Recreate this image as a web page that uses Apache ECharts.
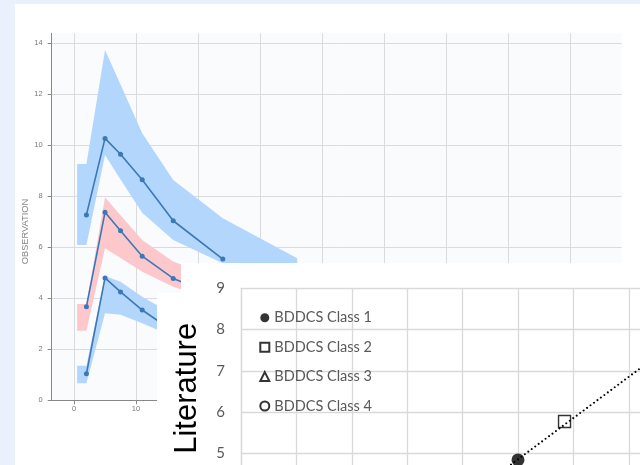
<!DOCTYPE html>
<html>
<head>
<meta charset="utf-8">
<script src="https://cdn.jsdelivr.net/npm/echarts@6/dist/echarts.min.js"></script>
<style>
  html, body { margin: 0; padding: 0; width: 640px; height: 465px; overflow: hidden; background: #eaf1fc; }
  #main { position: absolute; left: 0; top: 0; width: 640px; height: 465px; }
  #inset { position: absolute; left: 156.7px; top: 263px; width: 483.3px; height: 202px; }
</style>
</head>
<body>
<div id="main"></div>
<div id="inset"></div>
<script>
// ---- Time-course panel: observed medians with prediction intervals ----
const obsTime = [2, 5, 7.5, 11, 16, 24];
const highObs = [7.27, 10.27, 9.65, 8.65, 7.04, 5.54];
const midObs  = [3.67, 7.37, 6.65, 5.65, 4.78, 4.0];
const lowObs  = [1.04, 4.8, 4.25, 3.54, 2.7];

const highBandTime  = [0.5, 2, 5, 7.5, 11, 16, 24, 36];
const highBandUpper = [9.27, 9.27, 13.74, 12.38, 10.47, 8.64, 7.14, 5.57];
const highBandLower = [6.09, 6.09, 9.62, 8.66, 7.35, 6.29, 5.37, 4.2];

const midBandTime  = [0.5, 2, 5, 7.5, 11, 16, 24];
const midBandUpper = [3.78, 3.78, 7.96, 7.26, 6.29, 5.44, 4.7];
const midBandLower = [2.73, 2.73, 5.96, 5.58, 5.04, 4.45, 3.8];

const lowBandTime  = [0.5, 2, 5, 7.5, 11, 16];
const lowBandUpper = [1.35, 1.35, 4.87, 4.65, 4.06, 3.36];
const lowBandLower = [0.67, 0.67, 3.41, 3.35, 3.02, 2.5];

const timeTicks = [0, 10, 20, 30, 40, 50, 60, 70, 80];
const obsTicks  = [0, 2, 4, 6, 8, 10, 12, 14];

// ---- Scatter panel: predicted vs literature values ----
const class1Points = [[5.0, 4.84]];
const class2Points = [[5.84, 5.77]];
const class3Points = [];
const class4Points = [];
const trendLine = [[4.0, 3.855], [8.0, 7.855]];
const classNames = ['BDDCS Class 1', 'BDDCS Class 2', 'BDDCS Class 3', 'BDDCS Class 4'];

const pair = (xs, ys) => ys.map((y, i) => [xs[i], y]);

function bandSeries(xs, lo, hi, color) {
  return {
    type: 'custom',
    silent: true,
    z: 1,
    data: xs.map((x, i) => [x, lo[i], hi[i]]),
    encode: { x: 0, y: [1, 2] },
    renderItem(params, api) {
      if (params.dataIndex !== 0) return null;
      const top = xs.map((x, i) => api.coord([x, hi[i]]));
      const bottom = xs.map((x, i) => api.coord([x, lo[i]])).reverse();
      return { type: 'polygon', shape: { points: top.concat(bottom) }, style: { fill: color } };
    }
  };
}

function obsLine(xs, ys) {
  return {
    type: 'line', z: 3, silent: true,
    data: pair(xs, ys),
    symbol: 'circle', symbolSize: 5,
    itemStyle: { color: '#3b78b4' },
    lineStyle: { color: '#3b78b4', width: 1.6 }
  };
}

const tickFont = { fontFamily: 'Liberation Sans', fontSize: 7.5, color: '#777' };

const main = echarts.init(document.getElementById('main'), null, { renderer: 'canvas' });
main.setOption({
  backgroundColor: '#eaf1fc',
  animation: false,
  graphic: [
    { type: 'rect', z: -10, shape: { x: 15, y: 4, width: 625, height: 461 }, style: { fill: '#ffffff' } },
    { type: 'text', z: 10, x: 25.5, y: 231.5, rotation: Math.PI / 2,
      style: { text: 'OBSERVATION', fontFamily: 'Liberation Sans', fontSize: 9.3, fill: '#888',
               align: 'center', verticalAlign: 'middle' } }
  ],
  grid: { left: 51.7, top: 33.3, width: 570, height: 367, show: true,
          backgroundColor: '#fafbfd', borderWidth: 0, outerBoundsMode: 'none', containLabel: false },
  xAxis: {
    type: 'value', min: -3.6, max: 88.34,
    axisLine: { show: true, onZero: false, lineStyle: { color: '#888', width: 1 } },
    axisTick: { show: true, length: 4, customValues: timeTicks, lineStyle: { color: '#888' } },
    axisLabel: { customValues: timeTicks, margin: 5, ...tickFont },
    splitLine: { show: true, lineStyle: { color: '#dadbe0', width: 1 } }
  },
  yAxis: {
    type: 'value', min: 0, max: 14.39,
    axisLine: { show: true, onZero: false, lineStyle: { color: '#888', width: 1 } },
    axisTick: { show: true, length: 4, customValues: obsTicks, lineStyle: { color: '#888' } },
    axisLabel: { customValues: obsTicks, margin: 9, ...tickFont },
    splitLine: { show: true, lineStyle: { color: '#dadbe0', width: 1 } }
  },
  series: [
    bandSeries(highBandTime, highBandLower, highBandUpper, '#b3d6fc'),
    bandSeries(midBandTime, midBandLower, midBandUpper, '#fcc8cc'),
    bandSeries(lowBandTime, lowBandLower, lowBandUpper, '#b3d6fc'),
    obsLine(obsTime, highObs),
    obsLine(obsTime, midObs),
    obsLine(obsTime.slice(0, lowObs.length), lowObs)
  ]
});

// ---- Scatter panel ----
const hollow = { color: 'rgba(255,255,255,0)', borderColor: '#000', borderWidth: 1.4 };
const inset = echarts.init(document.getElementById('inset'), null, { renderer: 'canvas' });
inset.setOption({
  backgroundColor: 'transparent',
  animation: false,
  graphic: [
    { type: 'rect', z: -10, shape: { x: 24, y: 0, width: 459.3, height: 202 }, style: { fill: '#ffffff' } },
    { type: 'rect', z: -10, shape: { x: 0, y: 29.7, width: 24.5, height: 172.3 }, style: { fill: '#ffffff' } },
    { type: 'text', z: 50, x: 30.5, y: 125.3, rotation: Math.PI / 2,
      style: { text: 'Literature', fontFamily: 'Liberation Sans', fontSize: 31, fill: '#000',
               align: 'center', verticalAlign: 'middle' } }
  ],
  grid: { left: 84, top: 25.3, width: 443.2, height: 206.25, outerBoundsMode: 'none', containLabel: false },
  legend: {
    orient: 'vertical', left: 102.3, top: 47.3, padding: 0,
    itemWidth: 9, itemHeight: 9, itemGap: 14.4, selectedMode: false,
    textStyle: { fontFamily: 'Lato', fontSize: 14.5, color: '#595959', lineHeight: 14 },
    data: [
      { name: classNames[0], icon: 'circle' },
      { name: classNames[1], icon: 'rect' },
      { name: classNames[2], icon: 'triangle' },
      { name: classNames[3], icon: 'circle' }
    ]
  },
  xAxis: {
    type: 'value', min: 0, max: 8, interval: 1,
    axisLine: { show: false }, axisTick: { show: false }, axisLabel: { show: false },
    splitLine: { show: true, lineStyle: { color: '#d9d9d9', width: 1.3 } }
  },
  yAxis: {
    type: 'value', min: 4, max: 9, interval: 1,
    axisLine: { show: true, lineStyle: { color: '#d9d9d9', width: 1.3 } },
    axisTick: { show: false },
    axisLabel: { margin: 16, fontFamily: 'Lato', fontSize: 15, color: '#595959' },
    splitLine: { show: true, lineStyle: { color: '#d9d9d9', width: 1.3 } }
  },
  series: [
    { type: 'line', data: trendLine, symbol: 'none', silent: true, z: 2,
      lineStyle: { color: '#000', width: 2, type: [0.01, 4.3], cap: 'round' } },
    { name: classNames[0], type: 'scatter', z: 3, data: class1Points, symbol: 'circle', symbolSize: 13,
      itemStyle: { color: '#000' } },
    { name: classNames[1], type: 'scatter', z: 3, data: class2Points, symbol: 'rect', symbolSize: 12,
      itemStyle: hollow },
    { name: classNames[2], type: 'scatter', z: 3, data: class3Points, symbol: 'triangle', symbolSize: 11,
      itemStyle: hollow },
    { name: classNames[3], type: 'scatter', z: 3, data: class4Points, symbol: 'circle', symbolSize: 11,
      itemStyle: hollow }
  ]
});
</script>
</body>
</html>
